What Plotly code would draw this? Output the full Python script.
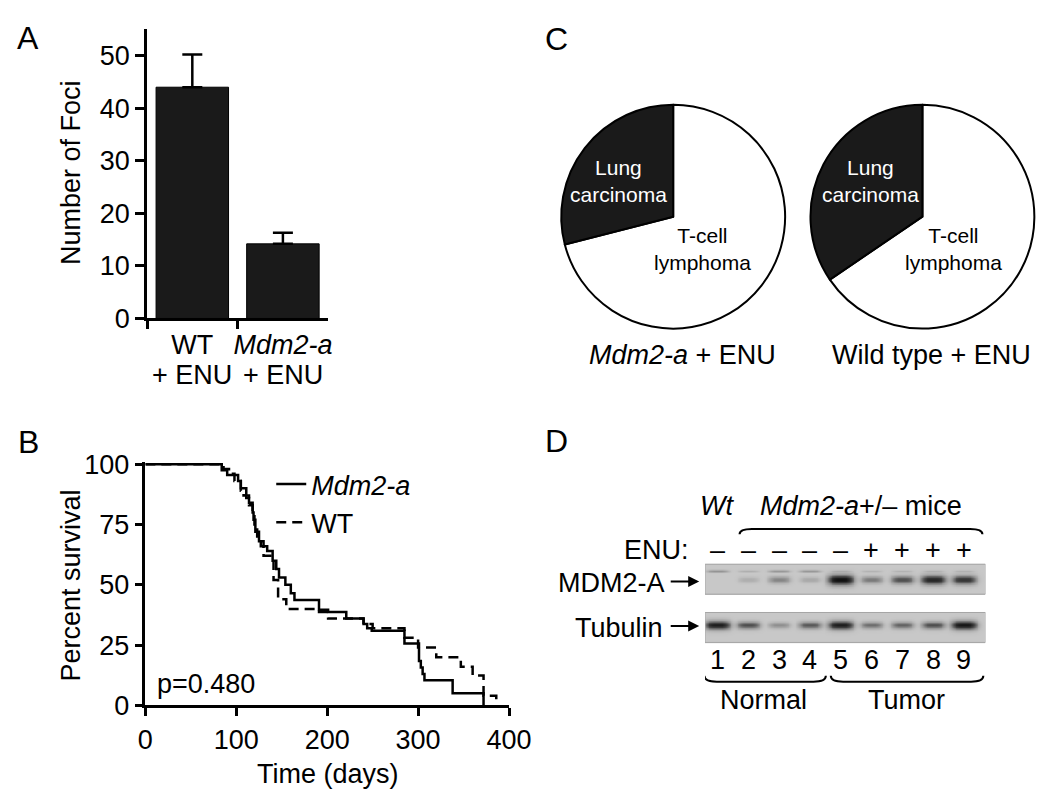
import numpy as np
import plotly.graph_objects as go

W, H = 1050, 798
FONT = "Liberation Sans, Arial, Helvetica, sans-serif"


def px(x):
    return x / W


def py(y):
    return 1 - y / H


# ---------------- data ----------------
# Panel A: number of foci
foci_groups = ["WT", "<i>Mdm2-a</i>"]
foci_mean = [44.0, 14.2]
foci_err = [6.2, 2.1]
foci_ticks = [0, 10, 20, 30, 40, 50]

# Panel B: Kaplan-Meier survival (days, percent survival)
km_mdm2_days = [0, 84, 90, 102, 105, 111, 114, 118, 119, 121, 125, 130, 134, 140, 144,
                147, 154, 160, 164, 191, 201, 221, 240, 244, 249, 285, 301, 303, 305,
                307, 338, 372]
km_mdm2_surv = [100, 97.5, 95.5, 93, 90, 86, 84, 80, 77, 72, 68, 66, 64, 60, 56.5,
                53, 50, 46.5, 43.7, 39.7, 38.7, 36, 33.7, 32, 31, 25.7, 18.4, 15.7, 13,
                10.4, 5, 0]
km_wt_days = [0, 86, 92, 98, 105, 108, 114, 118, 120, 123, 127, 130, 141, 146, 155,
              191, 201, 240, 250, 285, 300, 320, 347, 360, 372, 386]
km_wt_surv = [100, 98, 96, 93, 89, 87, 83, 79, 75, 70, 66, 62, 52, 44, 40,
              38.7, 36, 33.7, 32, 28, 24, 20, 16, 12.4, 4, 0]
km_xticks = [0, 100, 200, 300, 400]
km_yticks = [0, 25, 50, 75, 100]
p_value_text = "p=0.480"

# Panel C: tumour spectrum (percent); slices drawn clockwise from 12 o'clock
tumor_types = ["T-cell lymphoma", "Lung carcinoma"]
tumor_labels = ["T-cell<br>lymphoma", "Lung<br>carcinoma"]
tumor_colors = ["white", "#1a1a1a"]
mdm2_tumor_pct = [71.0, 29.0]
wt_tumor_pct = [65.5, 34.5]

# Panel D: western blot (relative band intensities per lane)
lanes = [1, 2, 3, 4, 5, 6, 7, 8, 9]
enu_status = ["–", "–", "–", "–", "–", "+", "+", "+", "+"]
mdm2a_band = [0.0, 0.12, 0.35, 0.15, 1.0, 0.4, 0.6, 0.85, 0.75]
mdm2a_upper_band = [0.3, 0.12, 0.28, 0.28, 0.1, 0.1, 0.1, 0.1, 0.1]
tubulin_band = [0.9, 0.6, 0.3, 0.55, 0.9, 0.45, 0.5, 0.6, 0.95]

# ---------------- figure ----------------
fig = go.Figure()

# Panel A bars
fig.add_trace(go.Bar(
    x=foci_groups, y=foci_mean, width=0.8,
    marker=dict(color="#1a1a1a", line=dict(color="black", width=1)),
    error_y=dict(type="data", array=foci_err, arrayminus=[0] * len(foci_err),
                 symmetric=False, color="black", thickness=2.5, width=10),
    xaxis="x", yaxis="y", showlegend=False, hoverinfo="skip"))

# Panel B survival curves
fig.add_trace(go.Scatter(
    x=km_mdm2_days, y=km_mdm2_surv, mode="lines", name="<i>Mdm2-a</i>",
    line=dict(shape="hv", color="black", width=2.5),
    xaxis="x2", yaxis="y2", hoverinfo="skip"))
fig.add_trace(go.Scatter(
    x=km_wt_days, y=km_wt_surv, mode="lines", name="WT",
    line=dict(shape="hv", color="black", width=2.5, dash="10px,6px"),
    xaxis="x2", yaxis="y2", hoverinfo="skip"))

# Panel C pies
pie_style = dict(sort=False, direction="clockwise", rotation=0,
                 marker=dict(colors=tumor_colors, line=dict(color="black", width=2)),
                 textinfo="none", hoverinfo="skip", showlegend=False)
fig.add_trace(go.Pie(values=mdm2_tumor_pct, labels=tumor_types,
                     domain=dict(x=[px(561.2), px(793.2)], y=[py(318.8), py(86.8)]),
                     **pie_style))
fig.add_trace(go.Pie(values=wt_tumor_pct, labels=tumor_types,
                     domain=dict(x=[px(818.0), 1.0], y=[py(318.8), py(86.8)]),
                     **pie_style))

# Panel D blots rendered as heatmaps from band intensities
blot_x0, blot_x1 = 0.6, 9.7
blots = [
    (563, 594, [(579, mdm2a_band, 4.5), (570, mdm2a_upper_band, 1.6)]),
    (613, 644, [(626, tubulin_band, 4.0)]),
]
xs = np.linspace(blot_x0, blot_x1, 320)
for y0, y1, rows in blots:
    ys = np.linspace(y0, y1, 48)
    X, Y = np.meshgrid(xs, ys)
    Z = np.zeros_like(X)
    for row_y, intens, thick in rows:
        for lane, inten in zip(lanes, intens):
            if inten <= 0:
                continue
            wx = 0.30 + 0.12 * inten
            sy = thick * (0.5 + 0.6 * inten)
            Z += inten * np.exp(-np.abs((X - lane) / wx) ** 4) * np.exp(-((Y - row_y) / sy) ** 2)
    Z = np.clip(Z, 0, 1) ** 0.8
    fig.add_trace(go.Heatmap(
        x=xs, y=ys, z=Z, zmin=0, zmax=1, zsmooth="best", showscale=False,
        colorscale=[[0, "rgb(200,200,200)"], [0.35, "rgb(150,150,150)"],
                    [0.7, "rgb(70,70,70)"], [1, "rgb(15,15,15)"]],
        xaxis="x3", yaxis="y3", hoverinfo="skip"))
    fig.add_shape(type="rect", xref="x3", yref="y3", x0=blot_x0, x1=blot_x1, y0=y0, y1=y1,
                  line=dict(color="rgb(165,165,165)", width=1))

axis_common = dict(showline=True, linewidth=2.5, linecolor="black", ticks="outside",
                   tickwidth=2.5, tickcolor="black", showgrid=False, zeroline=False,
                   tickfont=dict(size=27, family=FONT, color="black"), fixedrange=True)

fig.update_layout(
    width=W, height=H, margin=dict(l=0, r=0, t=0, b=0),
    paper_bgcolor="white", plot_bgcolor="white",
    font=dict(family=FONT, size=27, color="black"),
    bargap=0.2,
    xaxis=dict(domain=[px(135), px(321.7)], anchor="y", type="category",
               range=[-0.5, 1.5], tickson="boundaries", ticklen=8, tickangle=0,
               **axis_common),
    yaxis=dict(domain=[py(308.3), py(8.7)], anchor="x", range=[0, 55],
               tickvals=foci_ticks, ticklen=9, **axis_common),
    xaxis2=dict(domain=[px(133.3), px(508)], anchor="y2", range=[0, 400],
                tickvals=km_xticks, ticklen=8, tickangle=0, **axis_common),
    yaxis2=dict(domain=[py(709.3), py(457.3)], anchor="x2", range=[0, 100.8],
                tickvals=km_yticks, ticklen=8, **axis_common),
    xaxis3=dict(domain=[px(710), px(999)], anchor="y3", range=[blot_x0, blot_x1],
                visible=False, fixedrange=True),
    yaxis3=dict(domain=[py(715), py(490)], anchor="x3", range=[715, 490],
                visible=False, fixedrange=True),
    legend=dict(x=px(263), y=py(455), xanchor="left", yanchor="top",
                bgcolor="rgba(0,0,0,0)", font=dict(size=27, family=FONT, color="black"),
                traceorder="normal"),
)

ann = []


def text(x, y, s, size=27, xref="paper", yref="paper", xanchor="center", yanchor="middle",
         color="black", angle=0):
    ann.append(dict(x=x, y=y, xref=xref, yref=yref, text=s, showarrow=False,
                    xanchor=xanchor, yanchor=yanchor, textangle=angle,
                    font=dict(size=size, family=FONT, color=color)))


# panel letters
text(px(12.5), py(17.5), "A", size=32)
text(px(12.5), py(436.7), "B", size=32)
text(px(557), py(18.6), "C", size=32)
text(px(557), py(435.2), "D", size=32)

# panel A titles
text(px(56.7), py(157.5), "Number of Foci", angle=-90)
for i in range(len(foci_groups)):
    text(i, py(367), "+ ENU", xref="x")

# panel B titles
text(px(56.7), py(585), "Percent survival", angle=-90)
text(px(321.7), py(780), "Time (days)")
text(10.4, 8.9, p_value_text, xref="x2", yref="y2", xanchor="left")

# panel C labels
text(px(620.7), py(165.7), tumor_labels[1], size=21, color="white")
text(px(707.6), py(236.6), tumor_labels[0], size=21)
text(px(881.0), py(165.7), tumor_labels[1], size=21, color="white")
text(px(966.3), py(236.6), tumor_labels[0], size=21)
text(px(686.3), py(346.5), "<i>Mdm2-a</i> + ENU")
text(px(943.3), py(346.5), "Wild type + ENU")

# panel D labels
text(1, 502.8, "<i>Wt</i>", xref="x3", yref="y3")
text(5.65, 502.8, "<i>Mdm2-a</i>+/– mice", xref="x3", yref="y3")
text(px(695.8), py(548.5), "ENU:", xanchor="right")
for lane, s in zip(lanes, enu_status):
    text(lane, 548.5, s, xref="x3", yref="y3")
for lane in lanes:
    text(lane, 662, str(lane), xref="x3", yref="y3")
text(px(670.4), py(582), "MDM2-A", xanchor="right")
text(px(668.8), py(629), "Tubulin", xanchor="right")
text(2.5, 704, "Normal", xref="x3", yref="y3")
text(7.15, 704, "Tumor", xref="x3", yref="y3")

for tip_y in (581, 627):
    ann.append(dict(x=px(704), y=py(tip_y), xref="paper", yref="paper", text="",
                    showarrow=True, ax=-30, ay=0, arrowhead=2, arrowsize=1.1,
                    arrowwidth=2, arrowcolor="black", standoff=0))

fig.update_layout(annotations=ann)


def bracket(x0, x1, y_flat, y_end, r=0.4):
    return (f"M {x0},{y_end} Q {x0},{y_flat} {x0 + r},{y_flat} "
            f"L {x1 - r},{y_flat} Q {x1},{y_flat} {x1},{y_end}")


for x0, x1, yf, ye in ((1.72, 9.6, 526.5, 532.0), (0.58, 4.52, 684.7, 678.6),
                       (4.68, 9.63, 684.7, 678.6)):
    fig.add_shape(type="path", xref="x3", yref="y3", path=bracket(x0, x1, yf, ye),
                  line=dict(color="black", width=2))

fig.write_html("out.html")
